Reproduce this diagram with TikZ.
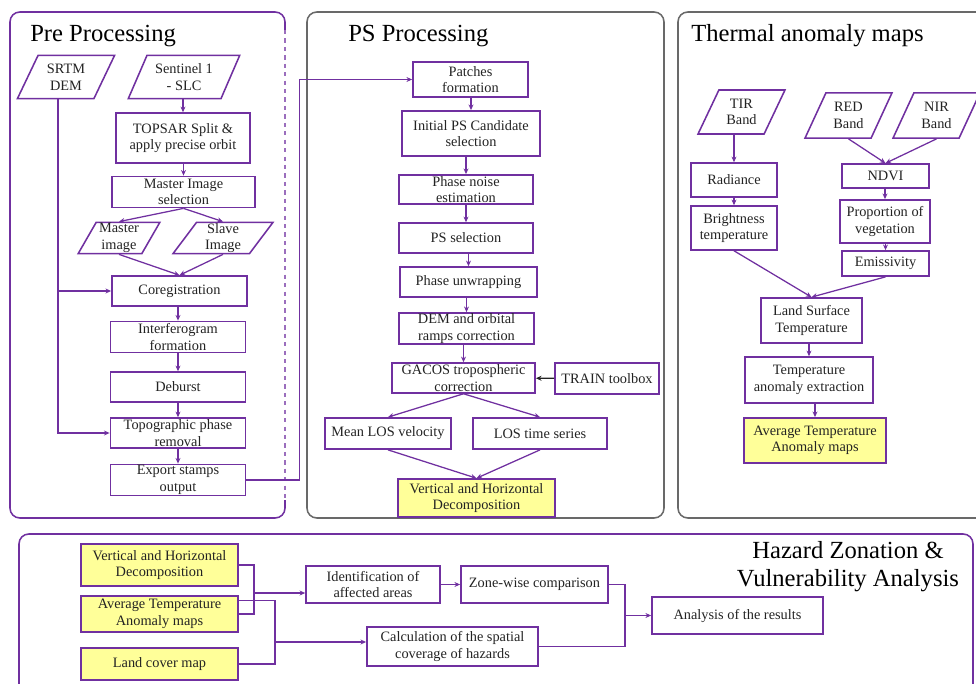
\documentclass[tikz,border=0pt]{standalone}
\usepackage{fontspec}
\setmainfont{Liberation Serif}
\usetikzlibrary{arrows.meta,calc,shapes.geometric}
\definecolor{hzpurple}{RGB}{112,48,160}
\definecolor{hzgrey}{RGB}{105,105,105}
\definecolor{hzyellow}{RGB}{255,255,153}
\definecolor{hztext}{RGB}{35,35,35}

\begin{document}
\begin{tikzpicture}[x=0.025cm,y=-0.025cm,
    every node/.style={align=center,text=hztext,font=\fontsize{10.2}{11.8}\selectfont},
    proc/.style={draw=hzpurple,line width=1.1pt,fill=white,inner sep=0.5pt},
    result/.style={proc,fill=hzyellow},
    datain/.style={trapezium,trapezium left angle=62,trapezium right angle=118,trapezium stretches=true,
      draw=hzpurple,line width=1.1pt,fill=white,inner sep=0.5pt},
    flow/.style={draw=hzpurple,line width=0.9pt,-{Stealth[length=4pt,width=3.5pt]}},
    link/.style={draw=hzpurple,line width=0.9pt},
    panel/.style={line width=1.1pt,rounded corners=7pt},
    paneltitle/.style={anchor=base west,inner sep=0pt,text=black,font=\fontsize{17.5}{20}\selectfont}]
  \useasboundingbox (0,0) rectangle (976,684);

  % panels
  \draw[panel,draw=hzpurple] (285,30) -- (285,12) -- (10,12) -- (10,518) -- (285,518) -- (285,500);
  \draw[draw=hzpurple!70,line width=0.8pt,dashed] (285,30) -- (285,500);
  \draw[panel,draw=hzgrey] (307,12) rectangle (664,518);
  \draw[panel,draw=hzgrey] (678,12) rectangle (990,518);
  \draw[panel,draw=hzpurple] (19,534) rectangle (973,695);

  \node[paneltitle] (tpre) at (30,41) {Pre Processing};
  \node[paneltitle] (tps) at (348,41) {PS Processing};
  \node[paneltitle] (tthermal) at (691,41) {Thermal anomaly maps};
  \node[text=black,font=\fontsize{17.5}{20}\selectfont] (thazard) at (848,567) {Hazard Zonation \&\\Vulnerability Analysis};

  % pre processing
  \node[datain,minimum width=2.43cm,minimum height=1.08cm] (srtm) at (66,77) {SRTM\\DEM};
  \node[datain,minimum width=2.8cm,minimum height=1.08cm] (sent) at (184,77) {Sentinel 1\\- SLC};
  \node[proc,minimum width=3.35cm,minimum height=1.25cm] (topsar) at (183,138) {TOPSAR Split \&\\apply precise orbit};
  \node[proc,minimum width=3.58cm,minimum height=0.78cm] (msel) at (183.5,192) {Master Image\\selection};
  \node[datain,minimum width=2.05cm,minimum height=0.78cm] (mimg) at (119,238) {Master\\image};
  \node[datain,minimum width=2.5cm,minimum height=0.78cm] (simg) at (223,238) {Slave\\Image};
  \node[proc,minimum width=3.38cm,minimum height=0.75cm] (coreg) at (179.5,291) {Coregistration};
  \node[proc,minimum width=3.38cm,minimum height=0.78cm] (ifg) at (178,337) {Interferogram\\formation};
  \node[proc,minimum width=3.38cm,minimum height=0.75cm] (deburst) at (178,387) {Deburst};
  \node[proc,minimum width=3.38cm,minimum height=0.75cm] (topo) at (178,433) {Topographic phase\\removal};
  \node[proc,minimum width=3.38cm,minimum height=0.78cm] (export) at (178,480) {Export stamps\\output};

  % ps processing
  \node[proc,minimum width=2.88cm,minimum height=0.88cm] (patches) at (470.5,79.5) {Patches\\formation};
  \node[proc,minimum width=3.45cm,minimum height=1.13cm] (initps) at (471,133.5) {Initial PS Candidate\\selection};
  \node[proc,minimum width=3.35cm,minimum height=0.73cm] (noise) at (466,189.5) {Phase noise\\estimation};
  \node[proc,minimum width=3.35cm,minimum height=0.75cm] (pssel) at (466,238) {PS selection};
  \node[proc,minimum width=3.43cm,minimum height=0.75cm] (unwrap) at (468.5,282) {Phase unwrapping};
  \node[proc,minimum width=3.38cm,minimum height=0.78cm] (demcorr) at (466.5,328.5) {DEM and orbital\\ramps correction};
  \node[proc,minimum width=3.58cm,minimum height=0.75cm] (gacos) at (463.5,378) {GACOS tropospheric\\correction};
  \node[proc,minimum width=2.6cm,minimum height=0.78cm] (train) at (607,378.5) {TRAIN toolbox};
  \node[proc,minimum width=3.15cm,minimum height=0.78cm] (meanlos) at (388,433.5) {Mean LOS velocity};
  \node[proc,minimum width=3.35cm,minimum height=0.78cm] (lots) at (540,433.5) {LOS time series};
  \node[result,minimum width=3.93cm,minimum height=0.95cm] (vhd) at (476.5,498) {Vertical and Horizontal\\Decomposition};

  % thermal anomaly maps
  \node[datain,minimum width=2.18cm,minimum height=1.1cm] (tir) at (741.5,112) {TIR\\Band};
  \node[datain,minimum width=2.18cm,minimum height=1.13cm] (red) at (848.5,115.5) {RED\\Band};
  \node[datain,minimum width=2.18cm,minimum height=1.13cm] (nir) at (936.5,115.5) {NIR\\Band};
  \node[proc,minimum width=2.15cm,minimum height=0.85cm] (radiance) at (734,180) {Radiance};
  \node[proc,minimum width=2.15cm,minimum height=1.1cm] (bright) at (734,228) {Brightness\\temperature};
  \node[proc,minimum width=2.18cm,minimum height=0.6cm] (ndvi) at (885.5,176) {NDVI};
  \node[proc,minimum width=2.25cm,minimum height=1.08cm] (propveg) at (885,221.5) {Proportion of\\vegetation};
  \node[proc,minimum width=2.18cm,minimum height=0.63cm] (emis) at (885.5,263.5) {Emissivity};
  \node[proc,minimum width=2.53cm,minimum height=1.13cm] (lst) at (811.5,320.5) {Land Surface\\Temperature};
  \node[proc,minimum width=3.2cm,minimum height=1.15cm] (tae) at (809,380) {Temperature\\anomaly extraction};
  \node[result,minimum width=3.55cm,minimum height=1.13cm] (atam) at (815,440.5) {Average Temperature\\Anomaly maps};

  % hazard zonation
  \node[result,minimum width=3.93cm,minimum height=1.05cm] (hvhd) at (159.5,565) {Vertical and Horizontal\\Decomposition};
  \node[result,minimum width=3.93cm,minimum height=0.9cm] (hatam) at (159.5,614) {Average Temperature\\Anomaly maps};
  \node[result,minimum width=3.93cm,minimum height=0.8cm] (landc) at (159.5,664) {Land cover map};
  \node[proc,minimum width=3.35cm,minimum height=0.93cm] (ident) at (373,584.5) {Identification of\\affected areas};
  \node[proc,minimum width=3.68cm,minimum height=0.93cm] (zone) at (534.5,584.5) {Zone-wise comparison};
  \node[proc,minimum width=4.28cm,minimum height=0.98cm] (calc) at (452.5,646.5) {Calculation of the spatial\\coverage of hazards};
  \node[proc,minimum width=4.28cm,minimum height=0.93cm] (analysis) at (737.5,615.5) {Analysis of the results};

  % connectors
  \foreach \a/\b in {sent/topsar,topsar/msel,coreg/ifg,ifg/deburst,deburst/topo,topo/export,
      patches/initps,initps/noise,noise/pssel,pssel/unwrap,unwrap/demcorr,demcorr/gacos,
      tir/radiance,radiance/bright,ndvi/propveg,propveg/emis,lst/tae,tae/atam}
    \draw[flow] (\b.north |- \a.south) -- (\b.north);
  \draw[flow] (msel.south) -- (mimg.north);
  \draw[flow] (msel.south) -- (simg.north);
  \draw[flow] (mimg.south) -- (coreg.north);
  \draw[flow] (simg.south) -- (coreg.north);
  \draw[flow] ([xshift=-0.2cm]srtm.south) |- (topo.west);
  \draw[flow] ([xshift=-0.2cm]srtm.south |- coreg.west) -- (coreg.west);
  \draw[flow] (export.east) -- ++(53,0) |- (patches.west);

  \draw[flow,draw=hztext] (train) -- (gacos);
  \draw[flow] (gacos.south) -- (meanlos.north);
  \draw[flow] (gacos.south) -- (lots.north);
  \draw[flow] (meanlos.south) -- (vhd.north);
  \draw[flow] (lots.south) -- (vhd.north);

  \draw[flow] (red.south) -- (ndvi.north);
  \draw[flow] (nir.south) -- (ndvi.north);
  \draw[flow] (bright.south) -- (lst.north);
  \draw[flow] (emis.south) -- (lst.north);

  \coordinate (busa) at (254,593);
  \coordinate (busb) at (275,642);
  \coordinate (busc) at (625,615.5);
  \draw[link] (hvhd.east) -| (busa) |- (hatam.east);
  \draw[flow] (busa) -- (busa -| ident.west);
  \draw[link] ($(hatam.north east)+(0,5)$) -| (busb) |- (landc.east);
  \draw[flow] (busb) -- (busb -| calc.west);
  \draw[flow] (ident) -- (zone);
  \draw[link] (zone.east) -| (busc) |- (calc.east);
  \draw[flow] (busc) -- (analysis.west);
\end{tikzpicture}
\end{document}
